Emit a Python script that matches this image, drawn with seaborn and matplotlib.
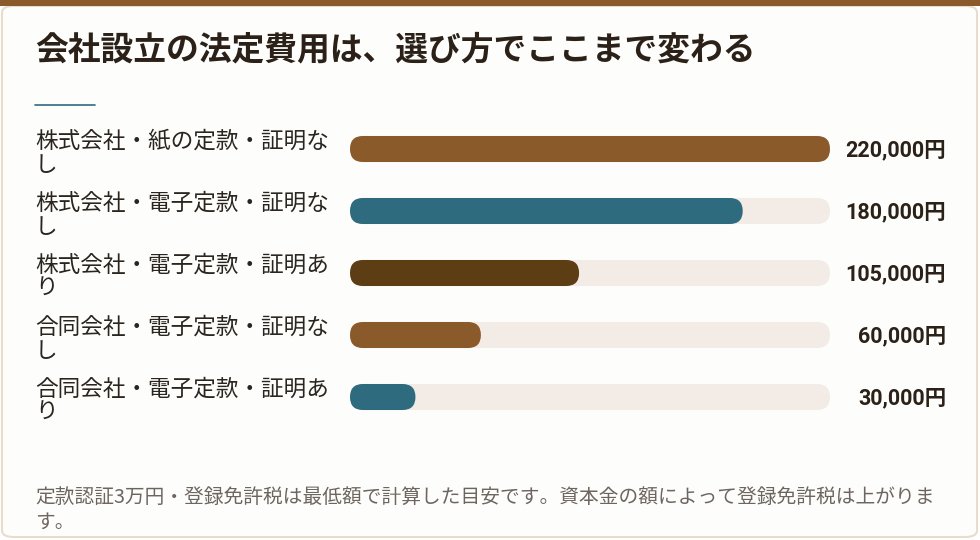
import pandas as pd
import seaborn as sns
import matplotlib.pyplot as plt
from matplotlib.patches import FancyBboxPatch, Rectangle

# ------------------------------
# data
# ------------------------------
labels = [
    "株式会社・紙の定款・証明な\nし",
    "株式会社・電子定款・証明な\nし",
    "株式会社・電子定款・証明あ\nり",
    "合同会社・電子定款・証明な\nし",
    "合同会社・電子定款・証明あ\nり",
]
costs = [220000, 180000, 105000, 60000, 30000]
value_texts = ["220,000円", "180,000円", "105,000円", "60,000円", "30,000円"]
bar_colors = ["#8B5A2B", "#2E6B7E", "#5C3D14", "#8B5A2B", "#2E6B7E"]

title = "会社設立の法定費用は、選び方でここまで変わる"
note = "定款認証3万円・登録免許税は最低額で計算した目安です。資本金の額によって登録免許税は上がりま\nす。"

W, H = 980, 540
track_color = "#F3ECE6"
xmax = max(costs)

sns.set_theme(style="white")
plt.rcParams["font.family"] = ["Noto Sans CJK JP", "DejaVu Sans"]

fig = plt.figure(figsize=(W / 100, H / 100), dpi=100)
fig.patch.set_facecolor("white")

def fx(px):
    return px / W

def fy(py):
    return 1 - py / H

# card + top band (card sits under the axes)
card = FancyBboxPatch((fx(2), fy(537)), fx(975), 531 / H,
                      boxstyle="round,pad=0,rounding_size=0.012",
                      transform=fig.transFigure, facecolor="#FDFEFC",
                      edgecolor="#E8DCCB", linewidth=1.5, zorder=-2)
fig.patches.append(card)
fig.patches.append(Rectangle((0, fy(6)), 1, 6 / H, transform=fig.transFigure,
                             facecolor="#8B5A2B", edgecolor="none", zorder=1))

# title + accent line
fig.text(fx(35), fy(50), title, fontsize=23.6, fontweight="bold",
         color="#2B2118", va="center", ha="left")
fig.lines.append(plt.Line2D([fx(35), fx(95)], [fy(105), fy(105)],
                            transform=fig.transFigure, color="#2E6B7E", lw=1.2))

# ------------------------------
# bars
# ------------------------------
row_h = 62
ax = fig.add_axes([fx(350), fy(428), fx(480), 310 / H])
df = pd.DataFrame({"label": labels, "cost": costs})
df["track"] = xmax

sns.barplot(data=df, y="label", x="track", color=track_color, width=0.42,
            saturation=1, ax=ax, orient="h")
sns.barplot(data=df, y="label", x="cost", hue="label", palette=bar_colors,
            width=0.42, saturation=1, legend=False, ax=ax, orient="h")
ax.set_xlim(0, xmax)
ax.set_ylim(4.5, -0.5)

# rounded ends: swap each rectangle for a pill of the same size
x_per_px = xmax / 480
y_per_px = 1 / row_h
for p in list(ax.patches):
    x0, y0, w, h = p.get_x(), p.get_y(), p.get_width(), p.get_height()
    pill = FancyBboxPatch((x0, y0), w, h,
                          boxstyle=f"round,pad=0,rounding_size={13 * x_per_px}",
                          mutation_aspect=y_per_px / x_per_px,
                          facecolor=p.get_facecolor(), edgecolor="none",
                          zorder=p.get_zorder())
    p.remove()
    ax.add_patch(pill)

ax.axis("off")

# row labels and values
for i, (lab, vt) in enumerate(zip(labels, value_texts)):
    cy = 149 + i * row_h
    fig.text(fx(35), fy(cy + 4), lab, fontsize=16.3, color="#2B2520",
             va="center", ha="left", linespacing=1.0)
    fig.text(fx(946), fy(cy + 1), vt, fontsize=15.5, fontweight="bold",
             color="#2B2118", va="center", ha="right",
             family=["Roboto", "Noto Sans CJK JP"])

# footnote
fig.text(fx(35), fy(510), note, fontsize=14.2, color="#6E6560",
         va="center", ha="left", linespacing=1.2)

fig.savefig("out.png", dpi=100, facecolor=fig.get_facecolor())
